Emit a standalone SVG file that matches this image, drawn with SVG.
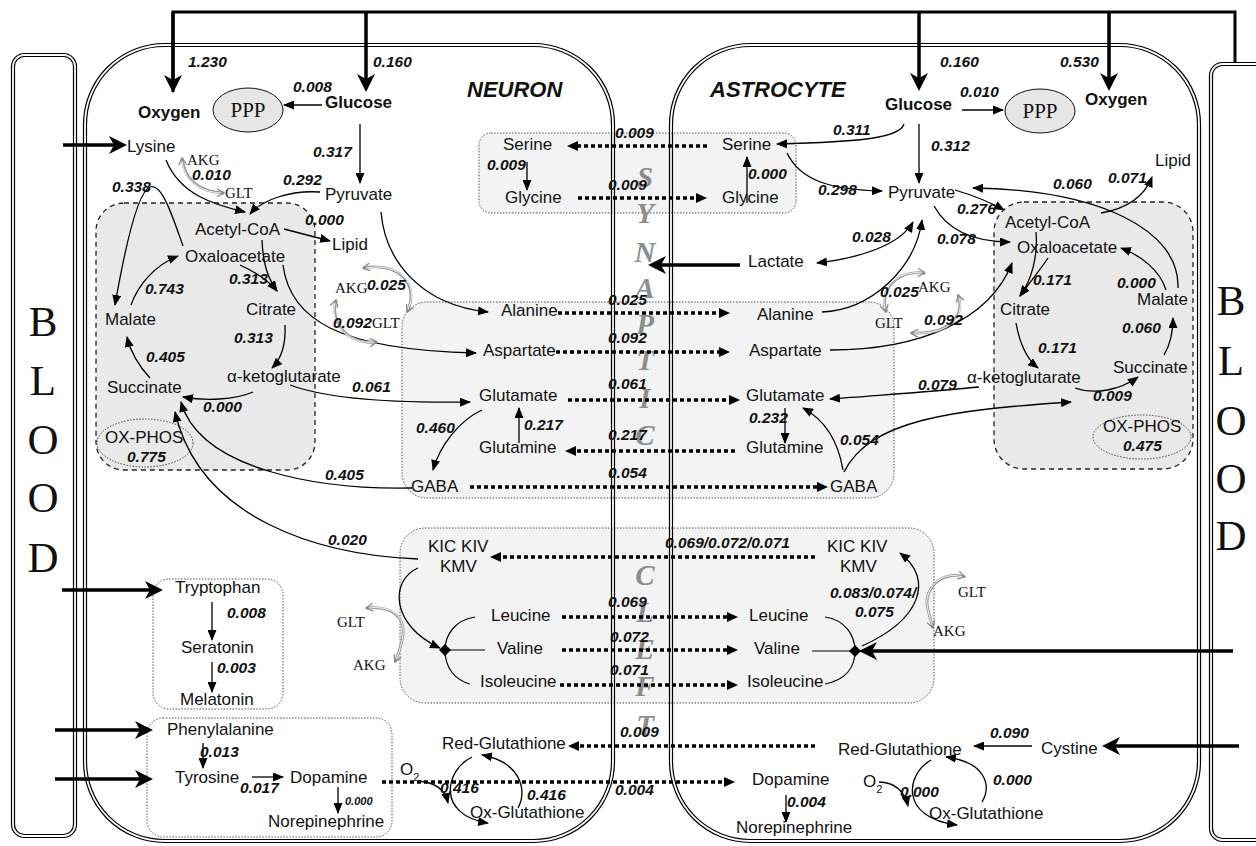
<svg xmlns="http://www.w3.org/2000/svg" width="1256" height="846" viewBox="0 0 1256 846">
<style>
text{font-family:"Liberation Sans",Arial,sans-serif;fill:#111}
.n{font-size:17px}
.b{font-size:17px;font-weight:bold}
.v{font-size:15.5px;font-weight:bold;font-style:italic}
.vs{font-size:11px;font-weight:bold;font-style:italic}
.s{font-family:"Liberation Serif","Times New Roman",serif;font-size:15px}
.t{font-size:22px;font-weight:bold;font-style:italic}
.bl{font-family:"Liberation Serif","Times New Roman",serif;font-size:43px;text-anchor:middle}
.sc{font-family:"Liberation Serif","Times New Roman",serif;font-size:29px;font-weight:bold;font-style:italic;fill:#8c8c8c;text-anchor:middle}
.ppp{font-family:"Liberation Serif","Times New Roman",serif;font-size:21px;text-anchor:middle}
.w{fill:none;stroke:#000;stroke-width:1.2}
.tca{fill:#e9e9e9;stroke:#222;stroke-width:1.3;stroke-dasharray:5 4}
.bx{fill:#f3f3f3;stroke:#555;stroke-width:1;stroke-dasharray:1.5 1.5}
.bw{fill:#fff;stroke:#555;stroke-width:1;stroke-dasharray:1.5 1.5}
.ln{fill:none;stroke:#000;stroke-width:1.3;marker-end:url(#ah)}
.tk{fill:none;stroke:#000;stroke-width:3.5;marker-end:url(#tk)}
.dt{fill:none;stroke:#000;stroke-width:3.5;stroke-dasharray:4 3;marker-end:url(#da)}
.g1{fill:none;stroke:#999;stroke-width:2.8;marker-start:url(#ga);marker-end:url(#ga)}
.g2{fill:none;stroke:#fff;stroke-width:0.9}
</style>
<defs>
<marker id="ah" viewBox="0 0 11 9" refX="10" refY="4.5" markerWidth="11" markerHeight="9" markerUnits="userSpaceOnUse" orient="auto-start-reverse"><path d="M0,0 L11,4.5 L0,9 z"/></marker>
<marker id="tk" viewBox="0 0 18 18" refX="13" refY="9" markerWidth="18" markerHeight="18" markerUnits="userSpaceOnUse" orient="auto"><path d="M0,0 L18,9 L0,18 L5,9 z"/></marker>
<marker id="da" viewBox="0 0 11 10" refX="7" refY="5" markerWidth="11" markerHeight="10" markerUnits="userSpaceOnUse" orient="auto"><path d="M0,0 L11,5 L0,10 z"/></marker>
<marker id="ga" viewBox="0 0 9 9" refX="8" refY="4.5" markerWidth="9" markerHeight="9" markerUnits="userSpaceOnUse" orient="auto-start-reverse"><path d="M1,0.5 L8,4.5 L1,8.5" fill="none" stroke="#888" stroke-width="1.3"/></marker>
</defs>
<rect width="1256" height="846" fill="#fff"/>

<g id="boxes">
<rect class="tca" x="96" y="203" width="219" height="267" rx="28"/>
<rect class="tca" x="994" y="202" width="199" height="267" rx="30"/>
<rect class="bx" x="479" y="133" width="317" height="80" rx="12"/>
<rect class="bx" x="402" y="302" width="492" height="196" rx="25"/>
<rect class="bx" x="400" y="528" width="534" height="175" rx="25"/>
<rect class="bw" x="153" y="579" width="130" height="130" rx="16"/>
<rect class="bw" x="147" y="718" width="245" height="119" rx="16"/>
<ellipse cx="248" cy="110" rx="35" ry="22" fill="#e6e6e6" stroke="#111" stroke-width="1"/>
<ellipse cx="1040" cy="111" rx="35" ry="22" fill="#e6e6e6" stroke="#111" stroke-width="1"/>
<ellipse cx="145" cy="443" rx="48" ry="24" fill="none" stroke="#444" stroke-width="1" stroke-dasharray="1.5 1.5"/>
<ellipse cx="1142" cy="437" rx="49" ry="22" fill="none" stroke="#444" stroke-width="1" stroke-dasharray="1.5 1.5"/>
</g>

<g id="blood-left">
<rect class="w" x="11.5" y="53.5" width="65" height="784" rx="13"/>
<rect class="w" x="14.5" y="56.5" width="59" height="778" rx="10"/>
<text class="bl" x="43" y="336">B</text>
<text class="bl" x="43" y="395">L</text>
<text class="bl" x="43" y="454">O</text>
<text class="bl" x="43" y="512">O</text>
<text class="bl" x="43" y="572">D</text>
</g>
<g id="blood-right">
<rect class="w" x="1209.5" y="62.5" width="70" height="779" rx="13"/>
<rect class="w" x="1212.5" y="65.5" width="64" height="773" rx="10"/>
<text class="bl" x="1231" y="315">B</text>
<text class="bl" x="1231" y="375">L</text>
<text class="bl" x="1231" y="435">O</text>
<text class="bl" x="1231" y="493">O</text>
<text class="bl" x="1231" y="550">D</text>
</g>
<g id="neuron">
<rect class="w" x="83.5" y="43.5" width="531" height="799" rx="81"/>
<rect class="w" x="86.5" y="46.5" width="525" height="793" rx="78"/>
<text class="t" x="467" y="97">NEURON</text>
</g>
<g id="astrocyte">
<rect class="w" x="669.5" y="43.5" width="531" height="799" rx="81"/>
<rect class="w" x="672.5" y="46.5" width="525" height="793" rx="78"/>
<text class="t" x="710" y="97">ASTROCYTE</text>
</g>
<g id="cleft">
<text class="sc" x="645" y="187">S</text>
<text class="sc" x="645" y="223">Y</text>
<text class="sc" x="645" y="262">N</text>
<text class="sc" x="645" y="298">A</text>
<text class="sc" x="645" y="334">P</text>
<text class="sc" x="645" y="370">T</text>
<text class="sc" x="645" y="408">I</text>
<text class="sc" x="645" y="445">C</text>
<text class="sc" x="645" y="585">C</text>
<text class="sc" x="645" y="622">L</text>
<text class="sc" x="645" y="659">E</text>
<text class="sc" x="645" y="696">F</text>
<text class="sc" x="645" y="735">T</text>
</g>

<g id="connectors">
<path d="M173,92 V12 H1235 V62" fill="none" stroke="#000" stroke-width="3"/>
<path class="tk" d="M173,12 V88"/>
<path class="tk" d="M366,12 V87"/>
<path class="tk" d="M919,12 V86"/>
<path class="tk" d="M1109,12 V86"/>
<path class="tk" d="M63,145 H122"/>
<path class="tk" d="M62,590 H158"/>
<path class="tk" d="M55,730 H148"/>
<path class="tk" d="M55,779 H148"/>
<path class="tk" d="M740,265 H653"/>
<path class="tk" d="M1233,651 H864"/>
<path class="tk" d="M1239,746 H1107"/>

<path class="ln" d="M322,105 H284"/>
<path class="ln" d="M360,124 V183"/>
<path class="ln" d="M166,160 C180,195 215,205 245,212"/>
<path class="ln" d="M320,192 C290,190 262,200 250,214"/>
<path class="ln" d="M183,246 C172,215 162,183 150,187 C136,192 122,265 115,305"/>
<path class="ln" d="M284,229 L330,241"/>
<path class="ln" d="M262,240 C263,265 268,278 277,291"/>
<path class="ln" d="M240,265 C255,272 268,280 277,291"/>
<path class="ln" d="M131,305 C138,285 155,265 178,256"/>
<path class="ln" d="M283,265 C290,320 340,350 476,353"/>
<path class="ln" d="M381,212 C385,260 420,305 488,312"/>
<path class="ln" d="M285,325 C286,345 282,358 272,368"/>
<path class="ln" d="M253,392 C235,400 205,401 183,397"/>
<path class="ln" d="M150,378 C138,365 130,350 127,337"/>
<path class="ln" d="M290,385 C330,400 400,403 470,402"/>
<path class="ln" d="M412,488 C320,490 200,470 181,402"/>
<path class="ln" d="M418,559 C320,555 200,520 175,412"/>
<path class="ln" d="M482,410 C460,420 440,445 433,470"/>
<path class="ln" d="M519,443 V408"/>
<path class="ln" d="M527,162 V190"/>
<path class="ln" d="M418,568 C390,580 390,625 440,648"/>
<path class="w" d="M475,617 C455,620 445,635 445,650 C445,668 455,680 470,684 M445,650 H485"/>
<polygon points="445,644 451,650 445,656 439,650"/>
<path class="ln" d="M212,602 V640"/>
<path class="ln" d="M212,662 V692"/>
<path class="ln" d="M203,743 V768"/>
<path class="ln" d="M252,777 H283"/>
<path class="ln" d="M338,787 V813"/>
<path class="ln" d="M418,781 C435,782 445,790 448,803"/>
<path class="ln" d="M472,757 C445,770 436,815 488,823"/>
<path class="ln" d="M518,808 C528,790 520,762 482,755"/>

<path class="dt" d="M707,146 H571"/>
<path class="dt" d="M578,198 H703"/>
<path class="dt" d="M558,313 H726"/>
<path class="dt" d="M556,352 H726"/>
<path class="dt" d="M568,400 H736"/>
<path class="dt" d="M735,451 H569"/>
<path class="dt" d="M470,487 H824"/>
<path class="dt" d="M815,557 H494"/>
<path class="dt" d="M562,617 H734"/>
<path class="dt" d="M562,650 H734"/>
<path class="dt" d="M560,685 H734"/>
<path class="dt" d="M382,782 H731"/>
<path class="dt" d="M815,746 H572"/>

<path class="ln" d="M962,110 H1003"/>
<path class="ln" d="M919,124 V183"/>
<path class="ln" d="M904,124 C900,138 860,142 777,144"/>
<path class="ln" d="M787,153 C800,180 830,190 882,191"/>
<path class="ln" d="M747,203 V157"/>
<path class="ln" d="M817,263 C860,258 900,245 913,222" marker-start="url(#ah)"/>
<path class="ln" d="M822,312 C870,310 915,270 922,220"/>
<path class="ln" d="M955,190 C975,196 990,202 1004,210"/>
<path class="ln" d="M934,206 C950,235 980,242 1010,242"/>
<path class="ln" d="M830,350 C920,350 990,320 1012,263"/>
<path class="ln" d="M1101,213 C1130,208 1145,195 1152,177"/>
<path class="ln" d="M1178,288 C1180,230 1100,190 973,188"/>
<path class="ln" d="M1166,290 C1160,270 1140,255 1121,248"/>
<path class="ln" d="M1036,232 C1038,255 1032,280 1020,296"/>
<path class="ln" d="M1048,258 C1040,270 1030,282 1020,296"/>
<path class="ln" d="M1016,323 C1020,345 1028,360 1038,368"/>
<path class="ln" d="M1075,388 C1095,395 1120,390 1138,377"/>
<path class="ln" d="M1164,355 C1170,345 1173,330 1173,318"/>
<path class="ln" d="M979,387 C930,392 880,395 830,399"/>
<path class="ln" d="M844,472 C870,420 950,410 1071,402"/>
<path class="ln" d="M843,470 C838,440 825,420 803,408"/>
<path class="ln" d="M785,408 V443"/>
<path class="w" d="M825,617 C845,620 855,635 855,651 C855,668 845,680 825,684 M812,651 H855"/>
<polygon points="855,645 861,651 855,657 849,651"/>
<path class="ln" d="M862,646 C920,620 935,580 900,553"/>
<path class="ln" d="M1032,746 H974"/>
<path class="ln" d="M879,782 C895,782 905,792 908,806"/>
<path class="ln" d="M931,760 C905,775 900,818 957,825"/>
<path class="ln" d="M982,802 C992,785 985,762 946,757"/>
<path class="ln" d="M786,795 V822"/>

<path class="g1" d="M182,158 C184,180 200,192 224,193"/><path class="g2" d="M182,161 C184,180 200,192 221,193"/>
<path class="g1" d="M407,312 C420,285 400,262 363,268"/><path class="g2" d="M408,309 C420,285 400,262 366,268"/>
<path class="g1" d="M336,300 C330,320 345,345 377,342"/><path class="g2" d="M335,303 C330,320 345,345 374,342"/>
<path class="g1" d="M366,608 C395,605 405,620 403,635 C401,648 398,655 395,662"/><path class="g2" d="M369,608 C395,605 405,620 403,635 C401,648 398,655 396,659"/>
<path class="g1" d="M886,312 C880,290 895,270 925,273"/><path class="g2" d="M885,309 C880,290 895,270 922,273"/>
<path class="g1" d="M958,295 C965,315 950,335 911,333"/><path class="g2" d="M959,298 C965,315 950,335 914,333"/>
<path class="g1" d="M965,577 C940,570 925,590 927,605 C929,615 931,622 933,628"/><path class="g2" d="M962,577 C940,570 925,590 927,605 C929,615 931,622 932,625"/>
</g>

<g id="n-oxygen"><text class="b" x="138" y="118">Oxygen</text><text class="v" x="188" y="67">1.230</text></g>
<g id="n-glucose"><text class="b" x="325" y="108">Glucose</text><text class="v" x="373" y="67">0.160</text></g>
<g id="n-ppp"><text class="ppp" x="248" y="117">PPP</text><text class="v" x="293" y="92">0.008</text></g>
<g id="n-pyruvate"><text class="n" x="325" y="200">Pyruvate</text><text class="v" x="313" y="157">0.317</text><text class="v" x="283" y="185">0.292</text></g>
<g id="n-lysine"><text class="n" x="127" y="152">Lysine</text><text class="s" x="187" y="165">AKG</text><text class="v" x="192" y="180">0.010</text><text class="s" x="225" y="198">GLT</text></g>
<g id="n-acetylcoa"><text class="n" x="195" y="235">Acetyl-CoA</text><text class="v" x="305" y="225">0.000</text></g>
<g id="n-lipid"><text class="n" x="332" y="250">Lipid</text></g>
<g id="n-oxaloacetate"><text class="n" x="185" y="262">Oxaloacetate</text><text class="v" x="112" y="192">0.338</text><text class="v" x="229" y="284">0.313</text></g>
<g id="n-citrate"><text class="n" x="246" y="315">Citrate</text><text class="v" x="234" y="343">0.313</text></g>
<g id="n-malate"><text class="n" x="105" y="325">Malate</text><text class="v" x="145" y="294">0.743</text></g>
<g id="n-akg"><text class="n" x="227" y="382">α-ketoglutarate</text><text class="v" x="352" y="392">0.061</text></g>
<g id="n-succinate"><text class="n" x="107" y="393">Succinate</text><text class="v" x="146" y="362">0.405</text><text class="v" x="203" y="412">0.000</text><text class="v" x="325" y="480">0.405</text><text class="v" x="328" y="545">0.020</text></g>
<g id="n-oxphos"><text class="n" x="105" y="443">OX-PHOS</text><text class="v" x="127" y="462">0.775</text></g>
<g id="n-transam"><text class="s" x="335" y="293">AKG</text><text class="v" x="367" y="290">0.025</text><text class="v" x="333" y="328">0.092</text><text class="s" x="372" y="328">GLT</text></g>

<g id="n-serine"><text class="n" x="503" y="150">Serine</text><text class="v" x="487" y="170">0.009</text><text class="v" x="615" y="138">0.009</text></g>
<g id="n-glycine"><text class="n" x="505" y="203">Glycine</text><text class="v" x="608" y="190">0.009</text></g>
<g id="n-alanine"><text class="n" x="501" y="316">Alanine</text><text class="v" x="608" y="305">0.025</text></g>
<g id="n-aspartate"><text class="n" x="483" y="356">Aspartate</text><text class="v" x="608" y="343">0.092</text></g>
<g id="n-glutamate"><text class="n" x="479" y="401">Glutamate</text><text class="v" x="608" y="389">0.061</text><text class="v" x="416" y="433">0.460</text></g>
<g id="n-glutamine"><text class="n" x="479" y="453">Glutamine</text><text class="v" x="524" y="430">0.217</text><text class="v" x="608" y="440">0.217</text></g>
<g id="n-gaba"><text class="n" x="411" y="492">GABA</text><text class="v" x="608" y="478">0.054</text></g>
<g id="n-kic"><text class="n" x="428" y="552">KIC KIV</text><text class="n" x="440" y="572">KMV</text><text class="v" x="665" y="548">0.069/0.072/0.071</text></g>
<g id="n-bcaa"><text class="n" x="491" y="621">Leucine</text><text class="n" x="497" y="654">Valine</text><text class="n" x="480" y="687">Isoleucine</text><text class="v" x="608" y="607">0.069</text><text class="v" x="610" y="642">0.072</text><text class="v" x="610" y="675">0.071</text><text class="s" x="337" y="627">GLT</text><text class="s" x="353" y="670">AKG</text></g>
<g id="n-trp"><text class="n" x="175" y="593">Tryptophan</text><text class="v" x="227" y="618">0.008</text><text class="n" x="181" y="653">Seratonin</text><text class="v" x="217" y="673">0.003</text><text class="n" x="180" y="705">Melatonin</text></g>
<g id="n-phe"><text class="n" x="167" y="735">Phenylalanine</text><text class="v" x="200" y="757">0.013</text><text class="n" x="175" y="783">Tyrosine</text><text class="v" x="240" y="793">0.017</text><text class="n" x="290" y="783">Dopamine</text><text class="vs" x="345" y="805">0.000</text><text class="n" x="268" y="827">Norepinephrine</text><text class="v" x="615" y="795">0.004</text></g>
<g id="n-glutathione"><text class="n" x="442" y="749">Red-Glutathione</text><text class="v" x="620" y="737">0.009</text><text class="n" x="400" y="775">O<tspan font-size="11" dy="6">2</tspan></text><text class="v" x="440" y="793">0.416</text><text class="v" x="527" y="800">0.416</text><text class="n" x="470" y="818">Ox-Glutathione</text></g>

<g id="a-glucose"><text class="b" x="885" y="110">Glucose</text><text class="v" x="940" y="67">0.160</text><text class="v" x="960" y="97">0.010</text></g>
<g id="a-ppp"><text class="ppp" x="1040" y="118">PPP</text></g>
<g id="a-oxygen"><text class="b" x="1085" y="105">Oxygen</text><text class="v" x="1060" y="67">0.530</text></g>
<g id="a-serine"><text class="n" x="722" y="150">Serine</text><text class="v" x="833" y="135">0.311</text></g>
<g id="a-glycine"><text class="n" x="722" y="203">Glycine</text><text class="v" x="748" y="179">0.000</text></g>
<g id="a-pyruvate"><text class="n" x="888" y="198">Pyruvate</text><text class="v" x="931" y="151">0.312</text><text class="v" x="818" y="195">0.298</text><text class="v" x="852" y="242">0.028</text></g>
<g id="a-lactate"><text class="n" x="748" y="267">Lactate</text></g>
<g id="a-transam"><text class="v" x="880" y="297">0.025</text><text class="s" x="918" y="292">AKG</text><text class="s" x="875" y="328">GLT</text><text class="v" x="924" y="325">0.092</text></g>
<g id="a-acetylcoa"><text class="n" x="1005" y="228">Acetyl-CoA</text><text class="v" x="957" y="214">0.276</text></g>
<g id="a-oxaloacetate"><text class="n" x="1017" y="253">Oxaloacetate</text><text class="v" x="937" y="244">0.078</text></g>
<g id="a-lipid"><text class="n" x="1155" y="166">Lipid</text><text class="v" x="1108" y="183">0.071</text><text class="v" x="1053" y="189">0.060</text></g>
<g id="a-citrate"><text class="n" x="1000" y="315">Citrate</text><text class="v" x="1033" y="285">0.171</text><text class="v" x="1038" y="353">0.171</text></g>
<g id="a-malate"><text class="n" x="1137" y="305">Malate</text><text class="v" x="1117" y="288">0.000</text></g>
<g id="a-akg"><text class="n" x="967" y="383">α-ketoglutarate</text><text class="v" x="918" y="390">0.079</text></g>
<g id="a-succinate"><text class="n" x="1113" y="373">Succinate</text><text class="v" x="1122" y="333">0.060</text><text class="v" x="1093" y="401">0.009</text></g>
<g id="a-oxphos"><text class="n" x="1103" y="432">OX-PHOS</text><text class="v" x="1123" y="451">0.475</text></g>
<g id="a-alanine"><text class="n" x="757" y="320">Alanine</text></g>
<g id="a-aspartate"><text class="n" x="749" y="356">Aspartate</text></g>
<g id="a-glutamate"><text class="n" x="746" y="401">Glutamate</text><text class="v" x="749" y="423">0.232</text></g>
<g id="a-glutamine"><text class="n" x="746" y="453">Glutamine</text></g>
<g id="a-gaba"><text class="n" x="830" y="492">GABA</text><text class="v" x="840" y="445">0.054</text></g>
<g id="a-kic"><text class="n" x="827" y="552">KIC KIV</text><text class="n" x="840" y="572">KMV</text><text class="v" x="830" y="598">0.083/0.074/</text><text class="v" x="855" y="617">0.075</text><text class="s" x="958" y="597">GLT</text><text class="s" x="933" y="636">AKG</text></g>
<g id="a-bcaa"><text class="n" x="749" y="621">Leucine</text><text class="n" x="754" y="654">Valine</text><text class="n" x="747" y="687">Isoleucine</text></g>
<g id="a-cystine"><text class="n" x="1041" y="754">Cystine</text><text class="v" x="990" y="738">0.090</text></g>
<g id="a-glutathione"><text class="n" x="838" y="755">Red-Glutathione</text><text class="v" x="993" y="785">0.000</text><text class="n" x="863" y="787">O<tspan font-size="11" dy="6">2</tspan></text><text class="v" x="900" y="797">0.000</text><text class="n" x="929" y="819">Ox-Glutathione</text></g>
<g id="a-dopamine"><text class="n" x="752" y="785">Dopamine</text><text class="v" x="787" y="807">0.004</text><text class="n" x="736" y="833">Norepinephrine</text></g>
</svg>
